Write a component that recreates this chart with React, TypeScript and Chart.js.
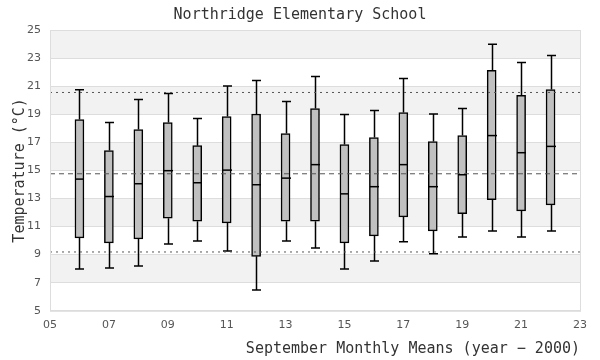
import React, { useEffect, useRef } from "react";
import { Chart, registerables } from "chart.js";

Chart.register(...registerables);

const years = [6, 7, 8, 9, 10, 11, 12, 13, 14, 15, 16, 17, 18, 19, 20, 21, 22];
const whiskerLow = [7.98, 8.05, 8.19, 9.76, 9.98, 9.26, 6.48, 9.98, 9.48, 7.98, 8.55, 9.91, 9.07, 10.26, 10.69, 10.26, 10.69];
const q1 = [10.19, 9.84, 10.12, 11.59, 11.38, 11.26, 8.88, 11.38, 11.38, 9.84, 10.34, 11.69, 10.69, 11.91, 12.91, 12.12, 12.55];
const medians = [14.38, 13.14, 14.05, 14.98, 14.12, 15.02, 13.98, 14.45, 15.41, 13.33, 13.84, 15.41, 13.84, 14.69, 17.48, 16.26, 16.71];
const q3 = [18.62, 16.41, 17.91, 18.41, 16.76, 18.84, 19.02, 17.62, 19.41, 16.84, 17.34, 19.12, 17.05, 17.48, 22.12, 20.34, 20.76];
const whiskerHigh = [20.74, 18.41, 20.05, 20.48, 18.69, 21.02, 21.41, 19.91, 21.69, 18.98, 19.26, 21.55, 19.02, 19.41, 23.98, 22.69, 23.19];

const upperLimit = 20.55;
const meanLine = 14.76;
const lowerLimit = 9.19;

const titleText = "Northridge Elementary School";
const xTitle = "September Monthly Means (year \u2212 2000)";
const yTitle = "Temperature (\u00B0C)";

const mono = "'DejaVu Sans Mono', 'Liberation Mono', monospace";
const sans = "'DejaVu Sans', sans-serif";

const boxPlugin = {
  id: "boxExtras",
  beforeDraw(chart: any) {
    const { ctx, chartArea, scales } = chart;
    const y = scales.y;
    ctx.save();
    ctx.fillStyle = "#f2f2f2";
    for (let v = 7; v < 25; v += 4) {
      const top = y.getPixelForValue(v + 2);
      const bot = y.getPixelForValue(v);
      ctx.fillRect(chartArea.left, top, chartArea.right - chartArea.left, bot - top);
    }
    ctx.restore();
  },
  beforeDatasetsDraw(chart: any) {
    const { ctx, scales } = chart;
    const x = scales.x;
    const y = scales.y;
    ctx.save();
    ctx.strokeStyle = "#000";
    ctx.lineWidth = 1.5;
    const half = 4.5;
    years.forEach((yr, i) => {
      const px = Math.round(x.getPixelForValue(yr)) + 0.5;
      const lo = y.getPixelForValue(whiskerLow[i]);
      const hi = y.getPixelForValue(whiskerHigh[i]);
      const b1 = y.getPixelForValue(q1[i]);
      const b3 = y.getPixelForValue(q3[i]);
      ctx.beginPath();
      ctx.moveTo(px, lo);
      ctx.lineTo(px, b1);
      ctx.moveTo(px, b3);
      ctx.lineTo(px, hi);
      ctx.moveTo(px - half, lo);
      ctx.lineTo(px + half, lo);
      ctx.moveTo(px - half, hi);
      ctx.lineTo(px + half, hi);
      ctx.stroke();
    });
    ctx.restore();
  },
  afterDatasetsDraw(chart: any) {
    const { ctx, scales, chartArea } = chart;
    const x = scales.x;
    const y = scales.y;
    ctx.save();
    ctx.strokeStyle = "#000";
    ctx.lineWidth = 1.5;
    const half = 4.5;
    years.forEach((yr, i) => {
      const px = Math.round(x.getPixelForValue(yr)) + 0.5;
      const m = y.getPixelForValue(medians[i]);
      ctx.beginPath();
      ctx.moveTo(px - half, m);
      ctx.lineTo(px + half, m);
      ctx.stroke();
    });
    ctx.strokeStyle = "#dddddd";
    ctx.lineWidth = 1;
    ctx.strokeRect(chartArea.left + 0.5, chartArea.top + 0.5, chartArea.right - chartArea.left, chartArea.bottom - chartArea.top);
    ctx.restore();
  },
};

export default function App() {
  const ref = useRef<HTMLCanvasElement | null>(null);
  useEffect(() => {
    document.body.style.margin = "0";
    if (!ref.current) return;
    const refLine = (v: number, dash: number[]) => ({
      type: "line" as const,
      data: [
        { x: 5, y: v },
        { x: 23, y: v },
      ],
      borderColor: "#555555",
      borderWidth: 1,
      borderDash: dash,
      pointRadius: 0,
      fill: false,
      order: 0,
    });
    const chart = new Chart(ref.current, {
      type: "bar",
      data: {
        datasets: [
          {
            type: "bar",
            data: years.map((yr, i) => ({ x: yr, y: [q1[i], q3[i]] })) as any,
            backgroundColor: "#c0c0c0",
            borderColor: "#000000",
            borderWidth: 1.5,
            borderSkipped: false,
            barThickness: 9,
            order: 1,
          } as any,
          refLine(upperLimit, [2, 4]) as any,
          refLine(meanLine, [5, 4]) as any,
          refLine(lowerLimit, [2, 4]) as any,
        ],
      },
      options: {
        animation: false,
        responsive: false,
        maintainAspectRatio: false,
        layout: { padding: { left: 12, right: 12, top: 0, bottom: 2 } },
        plugins: {
          legend: { display: false },
          tooltip: { enabled: false },
          title: {
            display: true,
            text: titleText,
            color: "#333333",
            font: { family: mono, size: 15, weight: "normal" },
            padding: { top: 6, bottom: 6 },
          },
        },
        scales: {
          x: {
            type: "linear",
            min: 5,
            max: 23,
            offset: false,
            grid: { display: false, drawTicks: false },
            border: { display: false },
            ticks: {
              stepSize: 2,
              color: "#555555",
              font: { family: sans, size: 11 },
              padding: 8,
              maxRotation: 0,
              callback: (v: any) => String(v).padStart(2, "0"),
            },
            title: {
              display: true,
              text: xTitle,
              align: "end",
              color: "#333333",
              font: { family: mono, size: 15, weight: "normal" },
              padding: { top: 0, bottom: 0 },
            },
          },
          y: {
            min: 5,
            max: 25,
            grid: { color: "#dddddd", drawTicks: false },
            border: { display: false },
            afterFit: (scale: any) => {
              scale.width = 38;
            },
            ticks: {
              stepSize: 2,
              color: "#555555",
              font: { family: sans, size: 11 },
              padding: 9,
            },
            title: {
              display: true,
              text: yTitle,
              color: "#333333",
              font: { family: mono, size: 15, weight: "normal" },
              padding: { top: -1, bottom: 0 },
            },
          },
          yRightSpacer: {
            type: "linear",
            position: "right",
            display: true,
            grid: { display: false, drawTicks: false },
            border: { display: false },
            ticks: { display: false },
            afterFit: (scale: any) => {
              scale.width = 8;
            },
          },
        },
      },
      plugins: [boxPlugin],
    });
    return () => chart.destroy();
  }, []);
  return <canvas ref={ref} width={600} height={360} style={{ display: "block" }} />;
}
